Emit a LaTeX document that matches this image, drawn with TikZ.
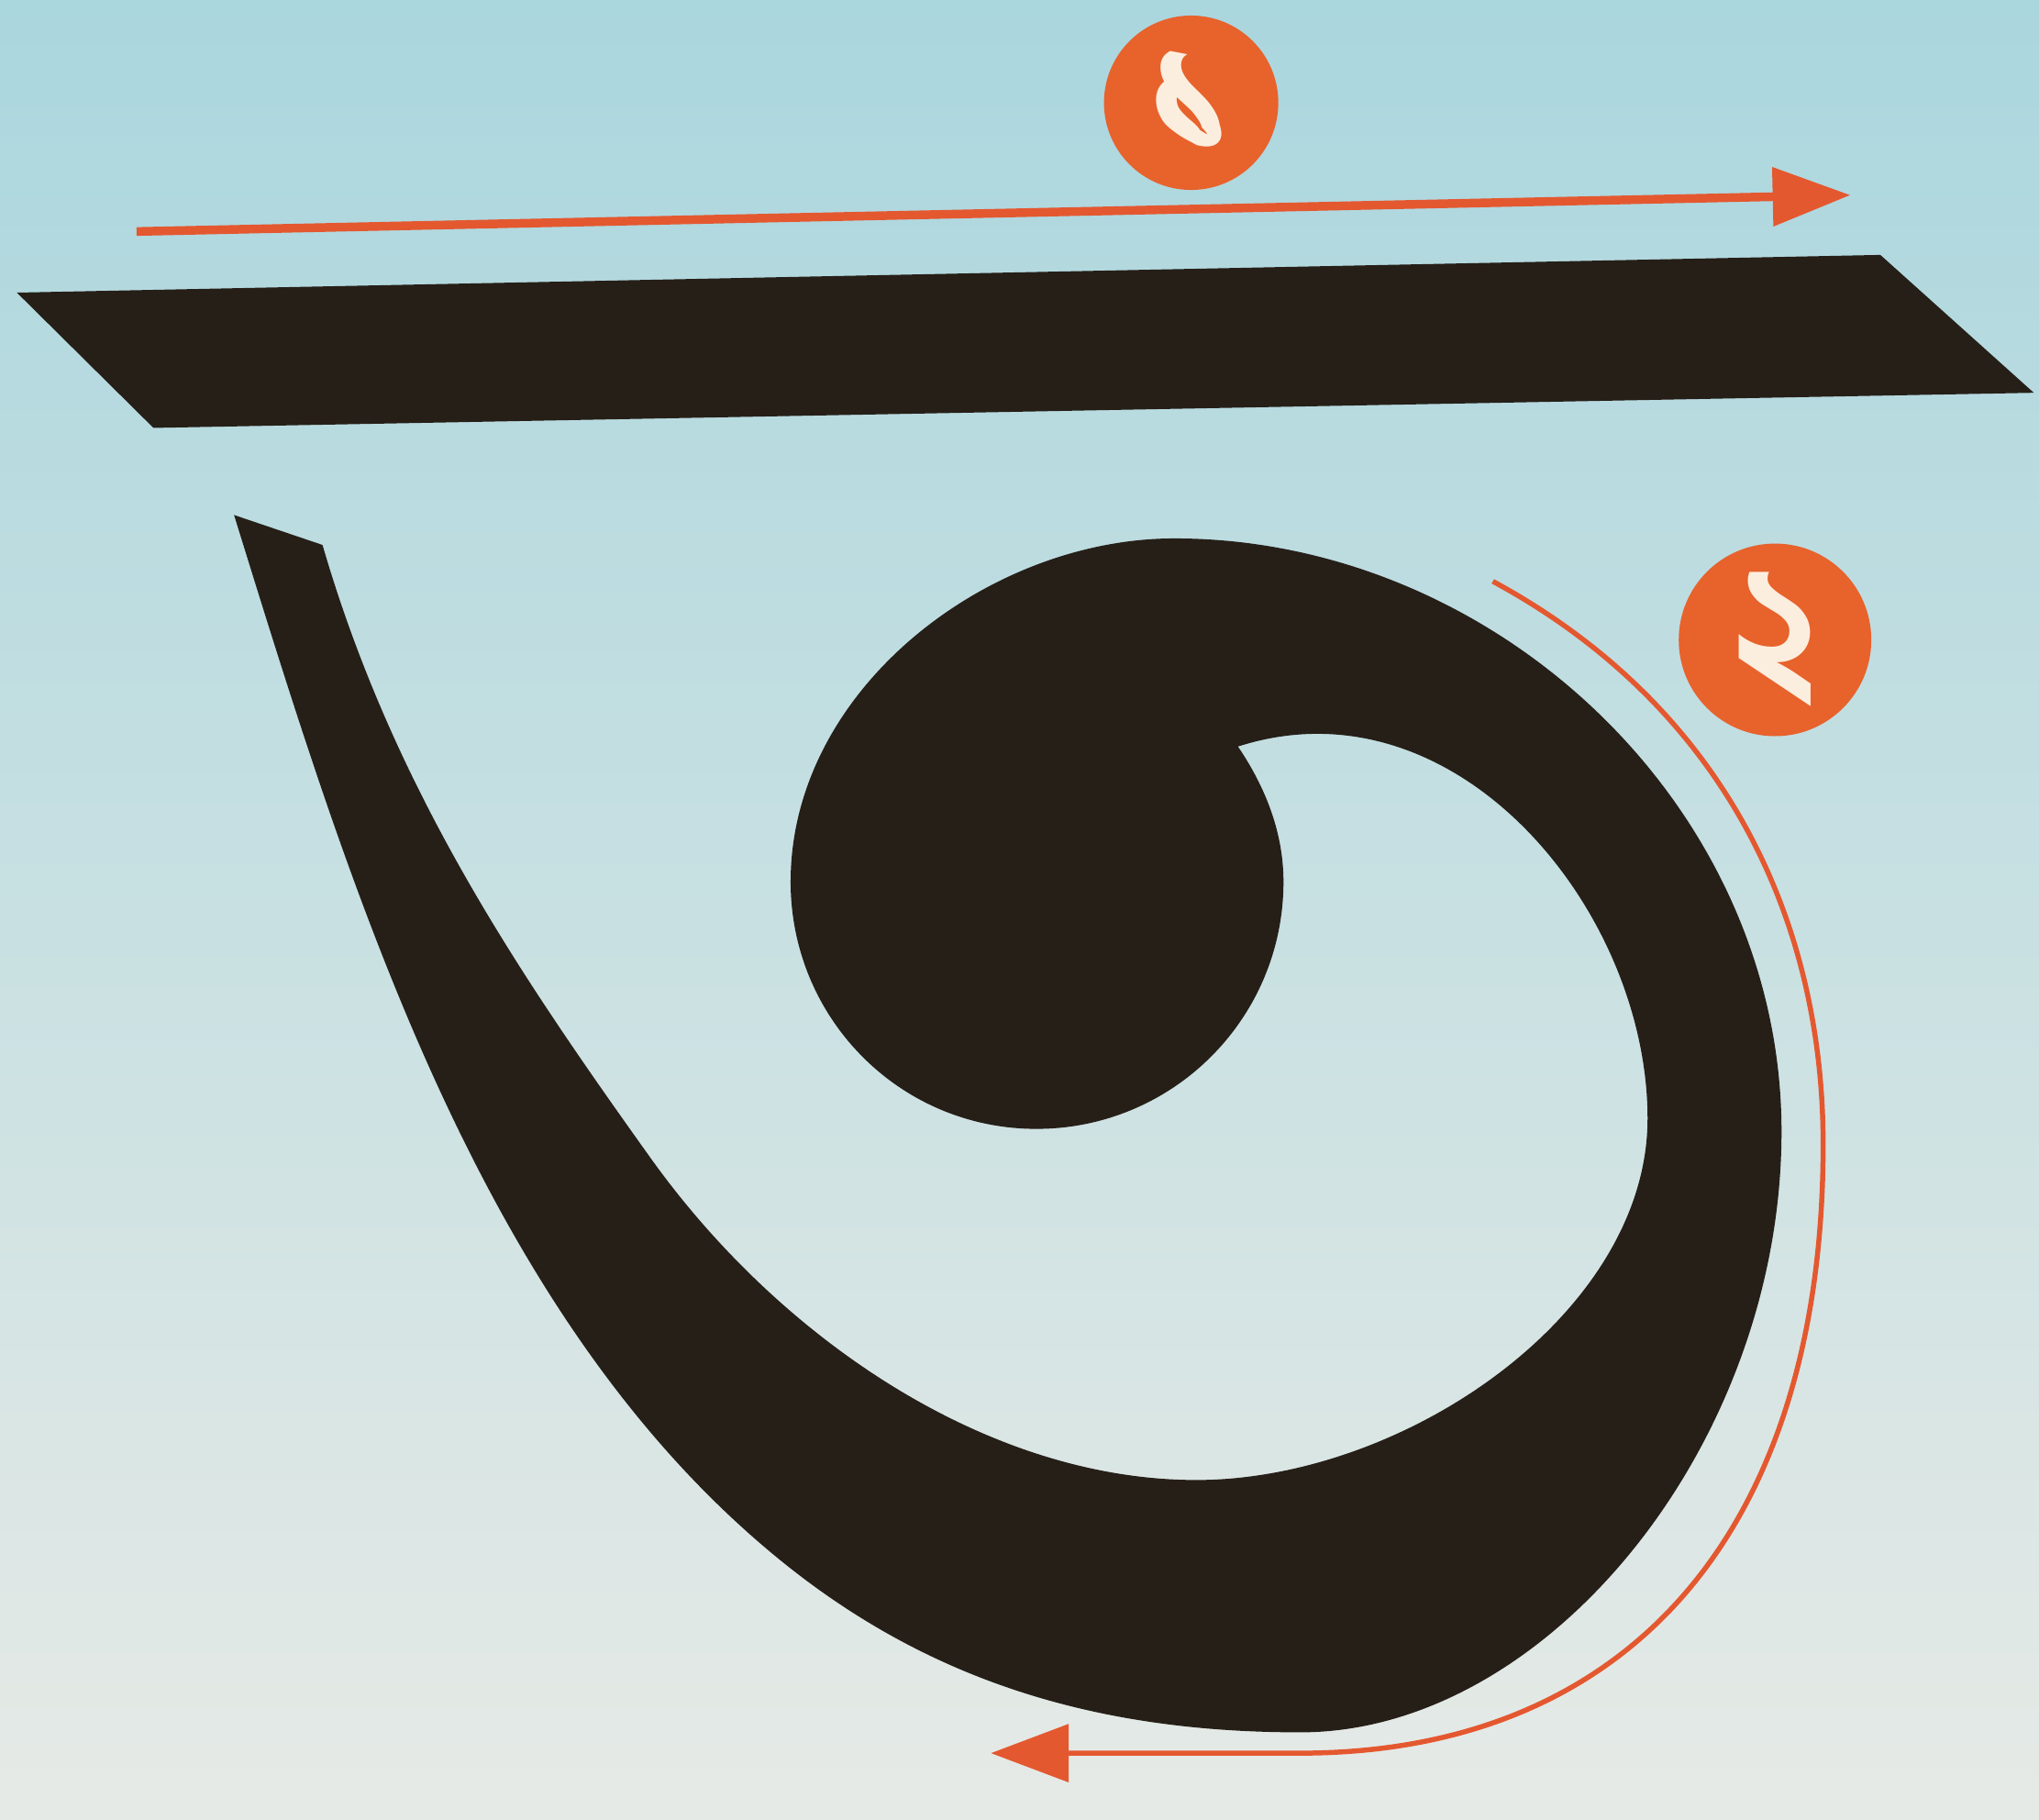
\documentclass[tikz,border=0pt]{standalone}
\usepackage{fontspec}
\newfontfamily\bengfont[Script=Bengali]{Hind Siliguri}
\usetikzlibrary{arrows.meta}
\definecolor{inkdark}{RGB}{38,31,24}
\definecolor{guidered}{RGB}{228,88,48}
\definecolor{badgered}{RGB}{232,98,44}
\definecolor{skytop}{RGB}{170,214,222}
\definecolor{paperbot}{RGB}{230,234,230}
\definecolor{numcream}{RGB}{252,238,222}

\begin{document}
\begin{tikzpicture}[
    x=0.01cm, y=-0.01cm,
    ink/.style={fill=inkdark},
    guide/.style={draw=guidered, line width=1.9pt, -{Triangle[length=17pt, width=12.5pt]}},
    badge/.style={circle, fill=badgered, minimum size=1.34cm, inner sep=0pt, text=numcream, font={\bengfont\bfseries\fontsize{40}{40}\selectfont}}
]
\useasboundingbox (0,0) rectangle (1568,1399);
\shade[top color=skytop, bottom color=paperbot] (0,0) rectangle (1568,1399);

% stroke 1: the headline
\draw[guide] (105,178) -- (1423,150);
\fill[ink] (13,225) -- (1446,196) -- (1564,302) -- (118,329) -- cycle;

% stroke 2: the body with its curl
\draw[guide, line width=1.1pt] (1148,447) .. controls (1320,540) and (1402,700) .. (1402,880)
    .. controls (1402,1180) and (1250,1348) .. (1000,1348) -- (762,1348);
\fill[ink] (180,396) .. controls (269,683) and (369,1014) .. (603,1202)
    .. controls (720,1296) and (850,1332) .. (1000,1332)
    .. controls (1190,1332) and (1370,1110) .. (1370,870)
    .. controls (1370,620) and (1150,414) .. (903,414)
    .. controls (760,414) and (608,530) .. (608,678)
    .. controls (608,783) and (692,868) .. (797,868)
    .. controls (902,868) and (987,783) .. (987,678)
    .. controls (987,640) and (973,605) .. (952,574)
    .. controls (1120,520) and (1267,700) .. (1267,860)
    .. controls (1267,1010) and (1080,1138) .. (920,1138)
    .. controls (760,1138) and (600,1030) .. (500,890)
    .. controls (400,750) and (303,608) .. (248,419)
    -- cycle;

\node[badge] (one) at (916,79) {১};
\node[badge, minimum size=1.48cm] (two) at (1365,492) {\raisebox{-0.1cm}{২}};
\end{tikzpicture}
\end{document}
